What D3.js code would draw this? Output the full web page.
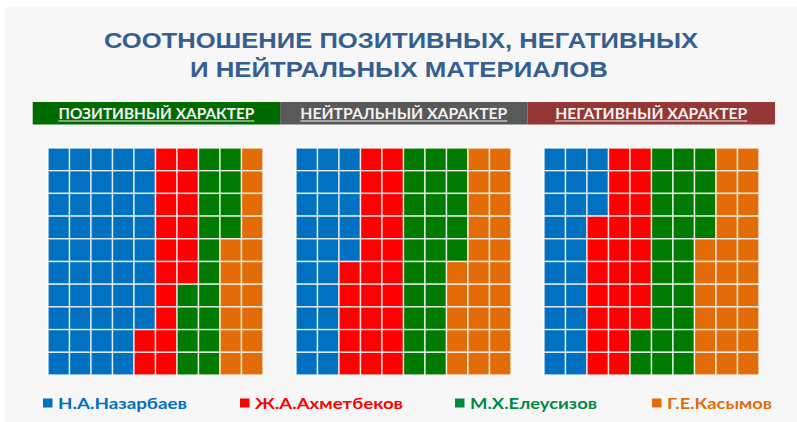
<!DOCTYPE html>
<html>
<head>
<meta charset="utf-8">
<script src="https://cdn.jsdelivr.net/npm/d3@7"></script>
<style>
  html, body { margin: 0; padding: 0; background: #ffffff; }
  svg { display: block; }
</style>
</head>
<body>
<svg id="chart" width="797" height="422"></svg>
<script>
// ---- DATA ----
const titleLines = ["СООТНОШЕНИЕ ПОЗИТИВНЫХ, НЕГАТИВНЫХ", "И НЕЙТРАЛЬНЫХ МАТЕРИАЛОВ"];
const categories = ["Н.А.Назарбаев", "Ж.А.Ахметбеков", "М.Х.Елеусизов", "Г.Е.Касымов"];
const panelTitles = ["ПОЗИТИВНЫЙ ХАРАКТЕР", "НЕЙТРАЛЬНЫЙ ХАРАКТЕР", "НЕГАТИВНЫЙ ХАРАКТЕР"];
const positiveValues = [48, 18, 18, 16];
const neutralValues = [25, 25, 25, 25];
const negativeValues = [23, 25, 26, 26];

// ---- STYLE / LAYOUT ----
const seriesColors = ["#0070C0", "#FF0000", "#007A00", "#E36C09"];
const legendColors = ["#0070C0", "#FF0000", "#008A3E", "#E36C09"];
const headerColors = ["#006B00", "#595959", "#953735"];
const panelValues = [positiveValues, neutralValues, negativeValues];

const svg = d3.select("#chart");
const W = 797, H = 422;

// background panel
svg.append("rect").attr("x", 5).attr("y", 7).attr("width", W - 5).attr("height", H - 7).attr("fill", "#F7F7F7");

// title
const titleY = [48, 77];
const titleLen = [594, 418];
const titleCx = [401, 399];
titleLines.forEach((t, i) => {
  svg.append("text")
    .attr("x", titleCx[i]).attr("y", titleY[i])
    .attr("text-anchor", "middle")
    .attr("font-family", "'Liberation Sans', Arial, sans-serif")
    .attr("font-weight", "bold")
    .attr("font-size", 22)
    .attr("fill", "#365F91")
    .attr("textLength", titleLen[i])
    .attr("lengthAdjust", "spacingAndGlyphs")
    .text(t);
});

// header bars
const headerX = d3.scaleBand().domain(d3.range(panelTitles.length)).range([32.7, 775]);
const headerTextLen = [196, 207, 192];
panelTitles.forEach((t, i) => {
  const x0 = headerX(i), bw = headerX.bandwidth();
  svg.append("rect").attr("x", x0).attr("y", 102).attr("width", bw).attr("height", 22.5).attr("fill", headerColors[i]);
  const cx = x0 + bw / 2;
  svg.append("text")
    .attr("x", cx).attr("y", 118.5)
    .attr("text-anchor", "middle")
    .attr("font-family", "Lato, 'Open Sans', sans-serif")
    .attr("font-weight", "bold")
    .attr("font-size", 15)
    .attr("fill", "#F2F2F2")
    .attr("textLength", headerTextLen[i])
    .attr("lengthAdjust", "spacingAndGlyphs")
    .text(t);
  svg.append("line")
    .attr("x1", cx - headerTextLen[i] / 2).attr("x2", cx + headerTextLen[i] / 2)
    .attr("y1", 121).attr("y2", 121)
    .attr("stroke", "#F2F2F2").attr("stroke-width", 1.2);
});

// waffles
const panelLeft = [48, 296, 544];
const panelWidth = 215;
const gridTop = 148, gridBottom = 375;
panelValues.forEach((vals, p) => {
  const cells = [];
  vals.forEach((v, ci) => { d3.range(v).forEach(() => cells.push(ci)); });
  const xs = d3.scaleBand().domain(d3.range(10)).range([panelLeft[p], panelLeft[p] + panelWidth]);
  const ys = d3.scaleBand().domain(d3.range(10)).range([gridTop, gridBottom]);
  const color = d3.scaleOrdinal().domain(d3.range(categories.length)).range(seriesColors);
  svg.append("g").selectAll("rect").data(cells).join("rect")
    .attr("x", (d, k) => xs(Math.floor(k / 10)))
    .attr("y", (d, k) => ys(k % 10))
    .attr("width", xs.bandwidth())
    .attr("height", ys.bandwidth())
    .attr("fill", d => color(d))
    .attr("stroke", "#ffffff")
    .attr("stroke-width", 1.4)
    .attr("stroke-opacity", 0.8);
});

// legend
const legendX = [43, 240, 455, 652];
const legendLen = [129, 148, 127, 105];
categories.forEach((c, i) => {
  svg.append("rect").attr("x", legendX[i]).attr("y", 398.5).attr("width", 9.5).attr("height", 9).attr("fill", legendColors[i]);
  svg.append("text")
    .attr("x", legendX[i] + 15).attr("y", 409)
    .attr("font-family", "Lato, 'Open Sans', sans-serif")
    .attr("font-weight", "bold")
    .attr("font-size", 16)
    .attr("fill", legendColors[i])
    .attr("textLength", legendLen[i])
    .attr("lengthAdjust", "spacingAndGlyphs")
    .text(c);
});
</script>
</body>
</html>
